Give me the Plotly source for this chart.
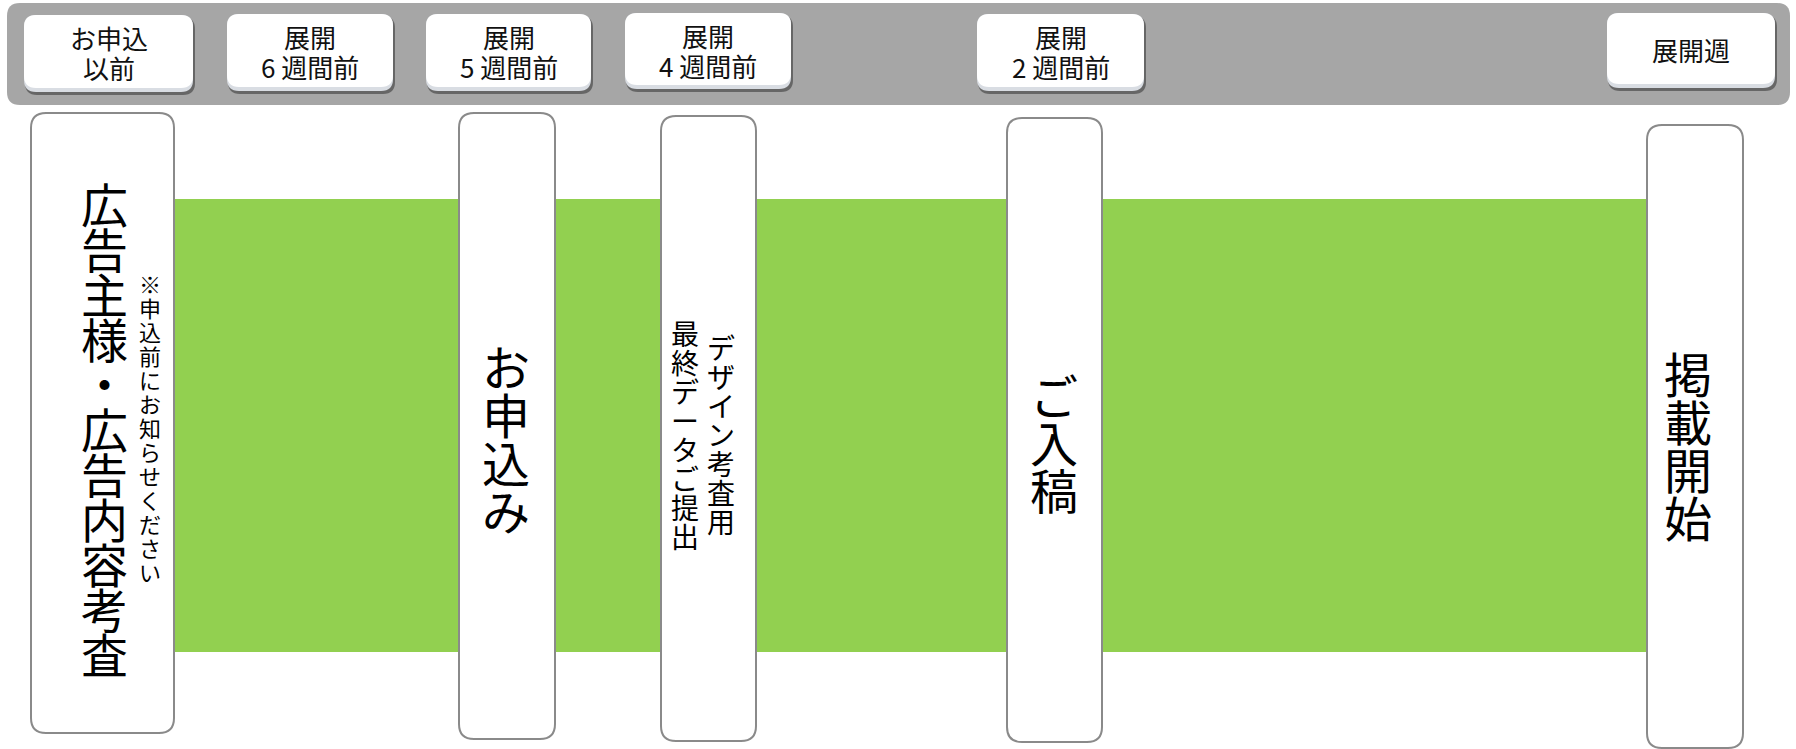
import plotly.graph_objects as go

# ---------------- data ----------------
header_labels = [["お申込", "以前"], ["展開", "6 週間前"], ["展開", "5 週間前"],
                 ["展開", "4 週間前"], ["展開", "2 週間前"], ["展開週"]]
stage_names = ["広告主様・広告内容考査", "お申込み", "デザイン考査用 最終データご提出",
               "ご入稿", "掲載開始"]
# vertical text columns per stage (first column is the rightmost / main one)
stage_columns = [
    ["広告主様・広告内容考査", "※申込前にお知らせください"],
    ["お申込み"],
    ["デザイン考査用", "最終データご提出"],
    ["ご入稿"],
    ["掲載開始"],
]

# ---------------- layout (pixel coordinates) ----------------
W, H = 1796, 749
FONT = "Noto Sans CJK JP"

band = dict(x0=7, x1=1790, y0=3, y1=105, r=13, color="#a6a6a6")
green = dict(x0=174, x1=1649, y0=199, y1=652, color="#92d050")

header_boxes = [  # x0, x1, y0, y1
    (24, 193, 15, 92), (227, 393, 14, 91), (426, 591, 14, 91),
    (625, 791, 13, 89), (977, 1144, 14, 91), (1607, 1775, 13, 88),
]
header_line_gap = 30
stage_boxes = [
    (31, 174, 113, 733), (459, 555, 113, 739), (661, 756, 116, 741),
    (1007, 1102, 118, 742), (1647, 1743, 125, 748),
]
# per column: x center, y center, pitch, font size
stage_text_cfg = [
    [(104, 427, 45, 47), (150, 427, 24, 22)],
    [(506, 437, 48, 48)],
    [(721, 434, 29, 28), (685, 434, 29, 28)],
    [(1054, 441, 47, 48)],
    [(1688, 444, 48, 48)],
]


def rrect(x0, y0, x1, y1, r):
    return (f"M {x0+r},{y0} L {x1-r},{y0} Q {x1},{y0} {x1},{y0+r} "
            f"L {x1},{y1-r} Q {x1},{y1} {x1-r},{y1} L {x0+r},{y1} "
            f"Q {x0},{y1} {x0},{y1-r} L {x0},{y0+r} Q {x0},{y0} {x0+r},{y0} Z")


shapes = []
annotations = []

# gray header band
shapes.append(dict(type="path", path=rrect(band["x0"], band["y0"], band["x1"], band["y1"], band["r"]),
                   fillcolor=band["color"], line=dict(width=0), layer="below"))
# green band
shapes.append(dict(type="rect", x0=green["x0"], x1=green["x1"], y0=green["y0"], y1=green["y1"],
                   fillcolor=green["color"], line=dict(width=0), layer="below"))

# header boxes with shadow
for (x0, x1, y0, y1), lines in zip(header_boxes, header_labels):
    shapes.append(dict(type="path", path=rrect(x0 + 1, y0 + 2, x1 + 2, y1 + 3, 12),
                       fillcolor="rgba(60,60,60,0.6)", line=dict(width=0)))
    shapes.append(dict(type="path", path=rrect(x0, y0, x1, y1, 12),
                       fillcolor="#d9dde3", line=dict(width=0)))
    shapes.append(dict(type="path", path=rrect(x0, y0, x1, y1 - 4, 12),
                       fillcolor="#ffffff", line=dict(width=0)))
    n = len(lines)
    for i, line in enumerate(lines):
        y = (y0 + y1) / 2 - 1 + (i - (n - 1) / 2) * header_line_gap
        annotations.append(dict(x=(x0 + x1) / 2, y=y, text=line, showarrow=False,
                                font=dict(family=FONT, size=26, color="#111111"),
                                xanchor="center", yanchor="middle", align="center"))

# stage boxes
for (x0, x1, y0, y1) in stage_boxes:
    shapes.append(dict(type="path", path=rrect(x0, y0, x1, y1, 15),
                       fillcolor="#ffffff", line=dict(color="#8a8a8a", width=2)))

# vertical text
for cols, cfgs in zip(stage_columns, stage_text_cfg):
    for text, (cx, cy, pitch, size) in zip(cols, cfgs):
        n = len(text)
        for i, ch in enumerate(text):
            y = cy + (i - (n - 1) / 2) * pitch
            annotations.append(dict(x=cx, y=y, text=ch, showarrow=False,
                                    font=dict(family=FONT, size=size, color="#000000"),
                                    xanchor="center", yanchor="middle"))

fig = go.Figure()
fig.update_layout(
    width=W, height=H,
    margin=dict(l=0, r=0, t=0, b=0),
    paper_bgcolor="#ffffff", plot_bgcolor="#ffffff",
    xaxis=dict(range=[0, W], visible=False, fixedrange=True),
    yaxis=dict(range=[H, 0], visible=False, fixedrange=True),
    shapes=shapes, annotations=annotations, showlegend=False,
)
fig.write_html("out.html", config={"displayModeBar": False},
               post_script="document.body.style.margin='0';document.body.style.overflow='hidden';")
